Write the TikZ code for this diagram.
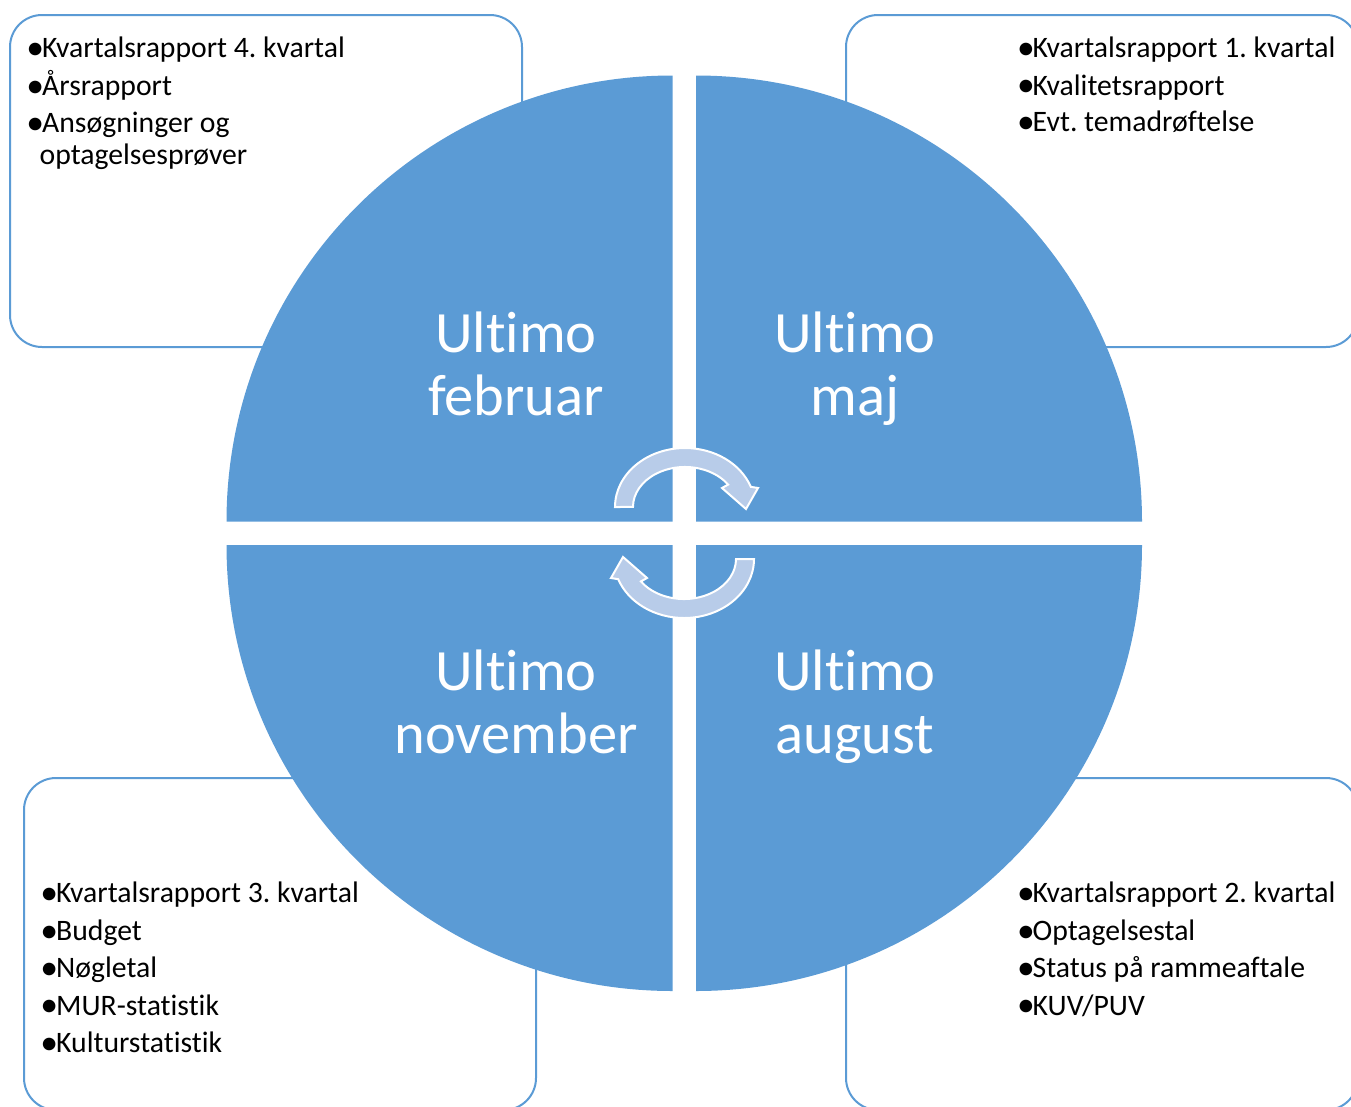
\documentclass[tikz,border=0pt]{standalone}
\usepackage{fontspec}
\setmainfont{Carlito}[Ligatures={NoCommon}]
\frenchspacing
\definecolor{qblue}{RGB}{91,155,213}
\definecolor{arrowfill}{RGB}{184,204,233}
\newcommand\bul{\makebox[13.5pt][l]{\hspace*{-2.2pt}\raisebox{-1.6pt}{\scalebox{1.2}{•}}}}
\tikzset{
  infobox/.style={rectangle, rounded corners=32pt, draw=qblue, line width=2pt, fill=white,
    minimum width=512pt, minimum height=332pt, inner sep=0pt},
  item/.style={anchor=base west, inner sep=0pt, font=\fontsize{29.7}{35}\selectfont, text=black},
  big/.style={anchor=base, inner sep=0pt, font=\fontsize{58.5}{64}\selectfont, text=white},
  quad/.style={fill=qblue},
  cyc/.style={fill=arrowfill, draw=white, line width=2pt, line join=miter}
}
\begin{document}
\begin{tikzpicture}[x=1pt, y=1pt, yscale=-1]
\useasboundingbox (0,0) rectangle (1351,1106);
\clip (0,0) rectangle (1351,1106);

% boxes
\node[infobox] (b1) at (266,181) {};
\node[infobox] (b2) at (1102,181) {};
\node[infobox] (b3) at (280,944) {};
\node[infobox] (b4) at (1102,944) {};

% quadrants
\path[quad] (672.5,521.5) -- (226.5,521.5) arc[start angle=180, end angle=270, radius=446] -- cycle;
\path[quad] (696,521.5) -- (696,75.5) arc[start angle=270, end angle=360, radius=446] -- cycle;
\path[quad] (696,545) -- (1142,545) arc[start angle=0, end angle=90, radius=446] -- cycle;
\path[quad] (672.5,545) -- (672.5,991) arc[start angle=90, end angle=180, radius=446] -- cycle;

% box texts
\node[item] (t1) at (28.5,57.5) {\bul Kvartalsrapport 4. kvartal};
\node[item] (t2) at (28.5,95.5) {\bul Årsrapport};
\node[item] (t3) at (28.5,132.5) {\bul Ansøgninger og};
\node[item] (t4) at (39.5,164) {optagelsesprøver};

\node[item] (r1) at (1019,57.5) {\bul Kvartalsrapport 1. kvartal};
\node[item] (r2) at (1019,95) {\bul Kvalitetsrapport};
\node[item] (r3) at (1019,131.5) {\bul Evt. temadrøftelse};

\node[item] (l1) at (42.5,902.5) {\bul Kvartalsrapport 3. kvartal};
\node[item] (l2) at (42.5,940.5) {\bul Budget};
\node[item] (l3) at (42.5,977.5) {\bul Nøgletal};
\node[item] (l4) at (42.5,1015) {\bul MUR-statistik};
\node[item] (l5) at (42.5,1052.5) {\bul Kulturstatistik};

\node[item] (s1) at (1019,902.5) {\bul Kvartalsrapport 2. kvartal};
\node[item] (s2) at (1019,940.5) {\bul Optagelsestal};
\node[item] (s3) at (1019,977.5) {\bul Status på rammeaftale};
\node[item] (s4) at (1019,1015) {\bul KUV/PUV};

% quadrant labels
\node[big] (q1a) at (516,352) {Ultimo};
\node[big] (q1b) at (516,415) {februar};
\node[big] (q2a) at (855,352) {Ultimo};
\node[big] (q2b) at (855,415) {maj};
\node[big] (q3a) at (516,690) {Ultimo};
\node[big] (q3b) at (516,753) {november};
\node[big] (q4a) at (855,690) {Ultimo};
\node[big] (q4b) at (855,753) {august};

% circular arrows
\path[cyc] (615,507) arc[start angle=180, end angle=340, x radius=70, y radius=59]
  -- (758,488) -- (746,509) -- (722,488) -- (728.1,484.6)
  arc[start angle=326, end angle=180, x radius=52, y radius=40] -- cycle;
\begin{scope}[rotate around={180:(684.5,533)}]
\path[cyc] (615,507) arc[start angle=180, end angle=340, x radius=70, y radius=59]
  -- (758,488) -- (746,509) -- (722,488) -- (728.1,484.6)
  arc[start angle=326, end angle=180, x radius=52, y radius=40] -- cycle;
\end{scope}
\end{tikzpicture}
\end{document}
